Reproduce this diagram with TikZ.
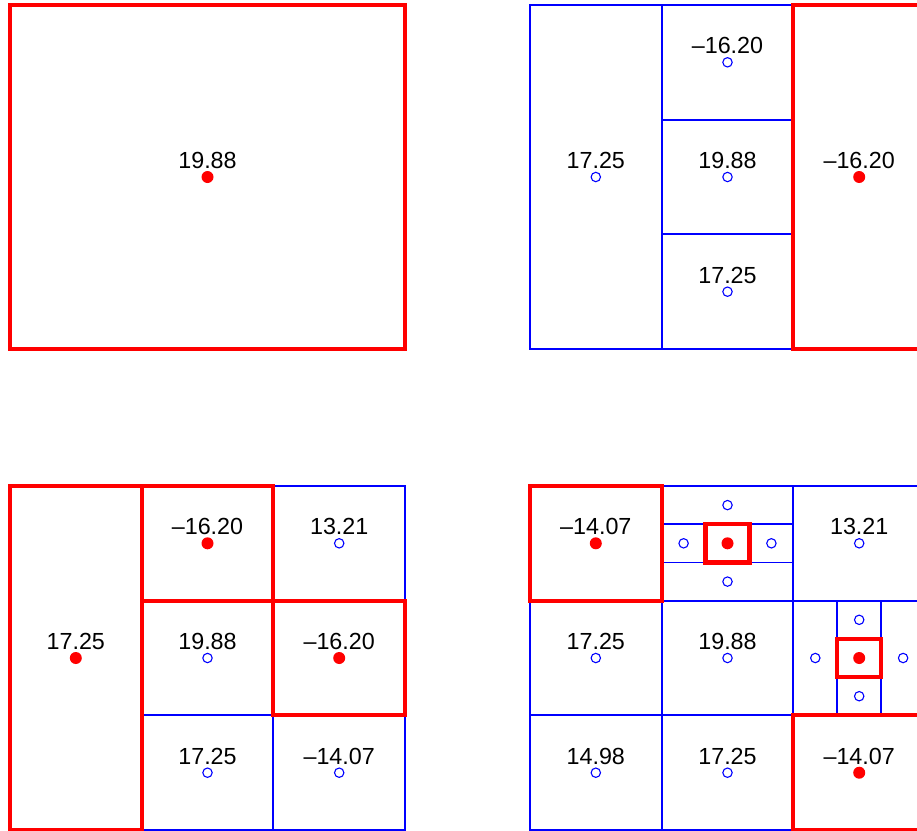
\documentclass[tikz,border=0pt]{standalone}
\usepackage{fontspec}
\setmainfont{Liberation Sans}

\begin{document}
\begin{tikzpicture}[x=1pt,y=-1pt,
  cellline/.style={blue,line width=1.8pt},
  redbox/.style={red,line width=4.2pt},
  ring/.style={blue,line width=1.1pt},
  val/.style={anchor=base,inner sep=0pt,font=\fontsize{23.3}{27}\selectfont}]
\useasboundingbox (0,0) rectangle (917,830);
\clip (0,0) rectangle (917,830);
% top left
\draw[redbox] (10,5) rectangle (405,349);
\node[val] (ta) at (207.5,168.3) {19.88};\fill[red] (207.5,177) circle (6pt);
% top right
\draw[cellline] (530,5) rectangle (661.67,349);
\draw[cellline] (661.67,5) rectangle (793.33,349);
\draw[cellline] (661.67,119.67)--(793.33,119.67);
\draw[cellline] (661.67,234.33)--(793.33,234.33);
\draw[redbox] (793.33,5) rectangle (925,349);
\node[val] (tb1) at (595.8,168.3) {17.25};\draw[ring] (595.8,177) circle (4.7pt);
\node[val] (tb2) at (727.5,53.6) {\textendash16.20};\draw[ring] (727.5,62.3) circle (4.7pt);
\node[val] (tb3) at (727.5,168.3) {19.88};\draw[ring] (727.5,177) circle (4.7pt);
\node[val] (tb4) at (727.5,283) {17.25};\draw[ring] (727.5,291.7) circle (4.7pt);
\node[val] (tb5) at (859.2,168.3) {\textendash16.20};\fill[red] (859.2,177) circle (6pt);
% bottom left
\draw[cellline] (10,486) rectangle (405,830);
\draw[cellline] (141.67,486)--(141.67,830);
\draw[cellline] (273.33,486)--(273.33,830);
\draw[cellline] (141.67,600.67)--(405,600.67);
\draw[cellline] (141.67,715.33)--(405,715.33);
\draw[redbox] (10,486) rectangle (141.67,830);
\draw[redbox] (141.67,486) rectangle (273.33,600.67);
\draw[redbox] (273.33,600.67) rectangle (405,715.33);
\draw[redbox] (141.67,600.67)--(141.67,715.33);
\node[val] (ba1) at (75.8,649.3) {17.25};\fill[red] (75.8,658) circle (6pt);
\node[val] (ba2) at (207.5,534.6) {\textendash16.20};\fill[red] (207.5,543.3) circle (6pt);
\node[val] (ba3) at (207.5,649.3) {19.88};\draw[ring] (207.5,658) circle (4.7pt);
\node[val] (ba4) at (207.5,764) {17.25};\draw[ring] (207.5,772.7) circle (4.7pt);
\node[val] (ba5) at (339.2,534.6) {13.21};\draw[ring] (339.2,543.3) circle (4.7pt);
\node[val] (ba6) at (339.2,649.3) {\textendash16.20};\fill[red] (339.2,658) circle (6pt);
\node[val] (ba7) at (339.2,764) {\textendash14.07};\draw[ring] (339.2,772.7) circle (4.7pt);
% bottom right
\draw[cellline] (530,486) rectangle (925,830);
\draw[cellline] (661.67,486)--(661.67,830);
\draw[cellline] (793.33,486)--(793.33,830);
\draw[cellline] (530,600.67)--(925,600.67);
\draw[cellline] (530,715.33)--(925,715.33);
\draw[cellline] (661.67,524.22)--(793.33,524.22);
\draw[cellline] (661.67,562.44)--(793.33,562.44);
\draw[cellline] (837.22,600.67)--(837.22,715.33);
\draw[cellline] (881.11,600.67)--(881.11,715.33);
\draw[redbox] (530,486) rectangle (661.67,600.67);
\draw[redbox] (705.56,524.22) rectangle (749.44,562.44);
\draw[redbox] (837.22,638.89) rectangle (881.11,677.11);
\draw[redbox] (793.33,715.33) rectangle (925,830);
\node[val] (bb1) at (595.8,534.6) {\textendash14.07};\fill[red] (595.8,543.3) circle (6pt);
\draw[ring] (727.5,505.1) circle (4.7pt);
\draw[ring] (727.5,581.6) circle (4.7pt);
\draw[ring] (683.6,543.3) circle (4.7pt);
\draw[ring] (771.4,543.3) circle (4.7pt);
\fill[red] (727.5,543.3) circle (6pt);
\node[val] (bb2) at (859.2,534.6) {13.21};\draw[ring] (859.2,543.3) circle (4.7pt);
\node[val] (bb3) at (595.8,649.3) {17.25};\draw[ring] (595.8,658) circle (4.7pt);
\node[val] (bb4) at (727.5,649.3) {19.88};\draw[ring] (727.5,658) circle (4.7pt);
\draw[ring] (859.2,619.8) circle (4.7pt);
\draw[ring] (859.2,696.2) circle (4.7pt);
\draw[ring] (815.3,658) circle (4.7pt);
\draw[ring] (903.1,658) circle (4.7pt);
\fill[red] (859.2,658) circle (6pt);
\node[val] (bb5) at (595.8,764) {14.98};\draw[ring] (595.8,772.7) circle (4.7pt);
\node[val] (bb6) at (727.5,764) {17.25};\draw[ring] (727.5,772.7) circle (4.7pt);
\node[val] (bb7) at (859.2,764) {\textendash14.07};\fill[red] (859.2,772.7) circle (6pt);
\end{tikzpicture}
\end{document}
